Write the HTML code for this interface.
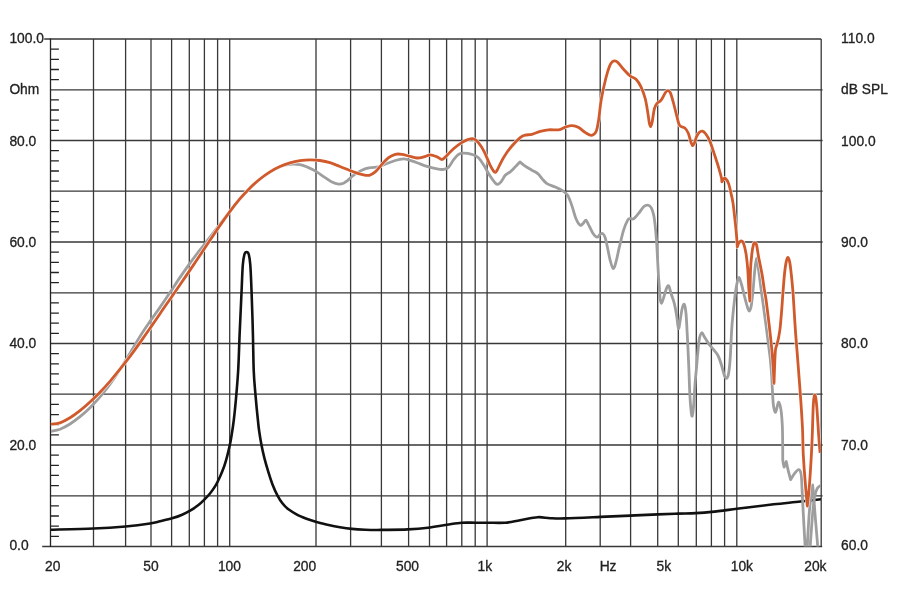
<!DOCTYPE html>
<html lang="en"><head><meta charset="utf-8"><title>Frequency response</title>
<style>html,body{margin:0;padding:0;background:#fff}svg{display:block}text{font-family:"Liberation Sans",Arial,Helvetica,sans-serif;font-size:13.8px;fill:#222;stroke:#222;stroke-width:0.3px}</style></head><body>
<svg width="897" height="603" viewBox="0 0 897 603">
<rect width="897" height="603" fill="#fff"/>
<defs><clipPath id="plot"><rect x="50.9" y="34" width="770" height="512.5"/></clipPath></defs>
<path d="M93.5 39V546.5M125.6 39V546.5M151 39V546.5M171.6 39V546.5M189.3 39V546.5M204.4 39V546.5M217.6 39V546.5M229.7 39V546.5M316 39V546.5M350.6 39V546.5M381.4 39V546.5M408.6 39V546.5M429.5 39V546.5M446.6 39V546.5M461.8 39V546.5M475.2 39V546.5M487.1 39V546.5M565.7 39V546.5M600.2 39V546.5M630.6 39V546.5M657.7 39V546.5M678.3 39V546.5M696.3 39V546.5M711.4 39V546.5M724.6 39V546.5M736.8 39V546.5M50.5 89.8H822.6M50.5 140.5H822.6M50.5 191.2H822.6M50.5 242H822.6M50.5 292.8H822.6M50.5 343.5H822.6M50.5 394.2H822.6M50.5 445H822.6M50.5 495.8H822.6M44.2 39H821.2M42.2 546.5H822.2M821.2 39V546.5" fill="none" stroke="#383838" stroke-width="1.3"/>
<path d="M50.5 38.5V547M50.5 49.1H58.9M50.5 59.3H58.9M50.5 69.5H58.9M50.5 79.6H58.9M50.5 99.9H58.9M50.5 110H58.9M50.5 120.2H58.9M50.5 130.4H58.9M50.5 150.7H58.9M50.5 160.8H58.9M50.5 171H58.9M50.5 181.1H58.9M50.5 201.4H58.9M50.5 211.6H58.9M50.5 221.7H58.9M50.5 231.8H58.9M50.5 252.2H58.9M50.5 262.3H58.9M50.5 272.5H58.9M50.5 282.6H58.9M50.5 302.9H58.9M50.5 313.1H58.9M50.5 323.2H58.9M50.5 333.4H58.9M50.5 353.7H58.9M50.5 363.8H58.9M50.5 373.9H58.9M50.5 384.1H58.9M50.5 404.4H58.9M50.5 414.6H58.9M50.5 424.7H58.9M50.5 434.9H58.9M50.5 455.2H58.9M50.5 465.3H58.9M50.5 475.4H58.9M50.5 485.6H58.9M50.5 505.9H58.9M50.5 516H58.9M50.5 526.2H58.9M50.5 536.4H58.9" fill="none" stroke="#222" stroke-width="1.3"/>
<g clip-path="url(#plot)" fill="none" stroke-linejoin="round" stroke-linecap="butt">
<path d="M50 529.7C57.2 529.5 80.9 529 93.5 528.5C106.1 528 116.2 527.3 125.6 526.5C135 525.7 144.3 524.4 150 523.5C155.7 522.6 156.3 522.2 160 521.3C163.7 520.4 168.3 519.4 172 518.3C175.7 517.2 179.1 516 182.1 514.7C185.1 513.4 187.4 512.3 190.1 510.7C192.8 509.1 195.7 507.2 198.1 505.3C200.5 503.4 202.6 501.3 204.6 499.3C206.6 497.3 208.4 495.4 210.2 493.2C212 491 213.5 489 215.2 486.2C216.9 483.4 218.7 479.5 220.2 476.2C221.7 472.9 223 469.5 224.2 466.2C225.4 462.9 226.3 459.6 227.2 456.1C228.1 452.6 229 448.8 229.8 445.1C230.6 441.4 231.1 438.2 231.8 434C232.5 429.8 233 426.7 233.8 420C234.6 413.3 235.7 402.1 236.4 393.8C237.1 385.5 237.6 380.6 238.2 370C238.8 359.4 239.2 343.2 239.8 330.3C240.4 317.4 241 303.6 241.5 292.7C242 281.8 242.3 271.4 242.8 265C243.3 258.6 243.8 256.7 244.4 254.5C245 252.3 245.9 252 246.6 252C247.3 252 248.2 252.3 248.8 254.5C249.4 256.7 249.8 258.6 250.3 265C250.8 271.4 251.2 281.8 251.6 292.7C252 303.6 252.5 317.4 252.8 330.3C253.2 343.2 253.3 359.4 253.7 370C254.1 380.6 254.7 385.5 255.4 393.8C256.1 402.1 257.2 413.6 257.9 420C258.5 426.4 258.7 428 259.3 432C259.9 436 260.5 439.8 261.3 444.1C262.1 448.5 263.2 453.4 264.4 458.1C265.6 462.8 267.1 467.9 268.4 472.2C269.7 476.5 270.9 480.3 272.4 484.2C273.9 488.1 275.7 492.1 277.4 495.3C279.1 498.5 280.6 501 282.4 503.3C284.2 505.6 286 507.5 288.4 509.3C290.8 511.1 293.5 512.7 296.5 514.3C299.5 515.9 303.2 517.4 306.5 518.7C309.8 520 312.8 520.9 316.5 521.9C320.2 522.9 324.7 524.1 328.6 525C332.5 525.9 336.1 526.6 340 527.2C343.9 527.9 347.8 528.5 352 528.9C356.2 529.3 360.3 529.5 365.2 529.7C370.1 529.9 374.4 530 381.5 529.9C388.6 529.8 400.1 529.8 407.9 529.4C415.6 529 421.5 528.5 428 527.7C434.5 526.9 441.2 525.5 446.8 524.7C452.4 523.9 457 523 461.8 522.7C466.6 522.4 471.2 522.7 475.6 522.7C480 522.7 483.2 522.7 488.1 522.7C493 522.7 499.7 523.1 505 522.7C510.3 522.3 514.6 521.1 520.1 520.2C525.6 519.3 532.7 517.5 537.7 517.2C542.7 516.9 545.6 518 550.2 518.2C554.8 518.4 556.8 518.6 565.2 518.4C573.6 518.2 589.5 517.4 600.4 516.9C611.3 516.4 620.9 516 630.5 515.6C640.1 515.2 650.1 514.7 658 514.4C665.9 514.1 671.8 513.8 678.1 513.6C684.4 513.4 690.1 513.4 695.7 513.1C701.3 512.8 704.9 512.6 711.7 511.9C718.6 511.2 726.5 510.1 736.8 508.8C747.1 507.5 763 505.5 773.6 504.3C784.2 503.1 792.4 502.4 800.4 501.5C808.4 500.6 818 499.6 821.5 499.2" stroke="#111" stroke-width="2.6"/>
<path d="M50 431.5C51.7 431.1 56.7 430.4 60 429.2C63.3 427.9 66.7 426.1 70 424C73.3 421.9 76.7 419.4 80 416.7C83.3 414 86.7 411 90 407.7C93.3 404.4 96.7 400.8 100 396.9C103.3 393 106.7 388.9 110 384.3C113.3 379.7 116.7 374.6 120 369.4C123.3 364.2 126.7 358.7 130 353.2C133.3 347.7 136.7 341.7 140 336.4C143.3 331.1 146.7 326.2 150 321.4C153.3 316.6 156.7 312.2 160 307.4C163.3 302.6 166.7 297.6 170 292.6C173.3 287.6 176.7 282.3 180 277.4C183.3 272.5 186.7 267.7 190 263.1C193.3 258.5 196.7 254.2 200 249.9C203.3 245.6 206.7 241.5 210 237.2C213.3 232.9 216.7 228.4 220 224.1C223.3 219.8 226.7 215.6 230 211.4C233.3 207.2 236.7 202.7 240 198.8C243.3 194.9 246.7 191.3 250 188C253.3 184.7 256.7 181.8 260 179.1C263.3 176.4 266.7 174.1 270 172C273.3 169.9 276.8 168 280 166.7C283.2 165.4 285.9 164.7 289.2 164.4C292.5 164.1 296.8 164.2 299.9 164.7C303 165.2 305.2 166.3 307.9 167.4C310.6 168.5 313.3 169.8 316 171.4C318.7 173 321.3 175 324 176.8C326.7 178.6 329.6 180.9 332 182.1C334.4 183.3 336.8 183.9 338.7 184.1C340.6 184.3 342 183.9 343.5 183.3C345 182.7 345.9 181.9 347.5 180.6C349.1 179.3 351 177 353.4 175.3C355.8 173.6 359 171.5 361.8 170.2C364.6 168.9 367.4 168.2 370.2 167.7C373 167.1 375.7 167.6 378.5 166.9C381.3 166.2 384.1 164.6 386.9 163.5C389.7 162.4 392.5 161.3 395.3 160.5C398.1 159.7 401.4 159 403.6 158.9C405.8 158.8 406.4 159.3 408.6 159.9C410.8 160.5 413.9 161.6 417 162.7C420.1 163.8 423.6 165.4 427 166.4C430.4 167.4 434.3 168.4 437.1 168.9C439.9 169.4 441.8 169.7 443.7 169.4C445.6 169.1 447.1 168.6 448.8 166.9C450.5 165.2 452.1 161.5 453.8 159.4C455.5 157.3 457.1 155.3 458.8 154.3C460.5 153.3 461.7 153.2 463.8 153.2C465.9 153.2 469.3 153.6 471.7 154.3C474.1 155.1 476.3 155.7 478.4 157.7C480.5 159.7 482.4 163 484.3 166.1C486.2 169.2 488.3 173.3 490.1 176.1C491.9 178.9 493.9 181.4 495.1 182.8C496.4 184.2 496.6 184.6 497.6 184.4C498.6 184.2 499.7 183.4 501 181.9C502.3 180.4 503.7 177 505.2 175.3C506.7 173.6 508.5 173.3 510.2 171.9C511.9 170.5 513.6 168.6 515.2 166.9C516.8 165.2 519.1 162.7 519.9 161.9C520.8 162.6 523.2 164.7 525.2 166.1C527.2 167.5 529.8 168.9 531.9 170.2C534 171.4 536.1 172.2 537.8 173.6C539.5 175 540.5 176.9 542 178.6C543.5 180.3 544.8 182.2 547 183.6C549.2 185 552.9 185.9 555.4 187C557.9 188.1 560 189 562 190.3C564 191.7 565.9 192.6 567.5 195.1C569.1 197.6 570.3 201.2 571.7 205.1C573.1 209 574.5 215.2 575.9 218.5C577.3 221.8 578.9 224.4 580.1 225.2C581.4 226 582.4 223.9 583.4 223.1C584.4 222.2 585.1 219.9 585.9 220.1C586.7 220.3 587.3 222.2 588.4 224.3C589.5 226.4 591.2 230.5 592.6 232.7C594 234.8 595.5 236.9 596.8 237.2C598.1 237.5 599.2 234.9 600.2 234.3C601.2 233.7 601.9 232.9 602.7 233.5C603.5 234.1 604.4 235.2 605.2 237.7C606 240.2 606.9 244.8 607.7 248.6C608.5 252.4 609.3 257 610.2 260.3C611.1 263.6 612.2 268.3 613.2 268.6C614.2 268.9 615 265.5 616 261.9C617 258.3 618.1 252.2 619.4 246.9C620.7 241.6 622.2 234.7 623.6 230.2C625 225.7 626.6 222 627.7 220.1C628.8 218.2 629.3 218.7 630.3 218.5C631.3 218.3 632.2 219.7 633.6 218.8C635 218 636.9 215.4 638.6 213.4C640.3 211.4 642.1 208.2 643.6 206.8C645.1 205.4 646.5 205 647.8 205.1C649.1 205.2 650.2 205.9 651.2 207.6C652.2 209.3 653 211.9 653.7 215.1C654.4 218.3 654.8 222.1 655.3 226.8C655.8 231.5 656.3 237.4 656.7 243.5C657.1 249.6 657.5 257.9 657.8 263.6C658.1 269.4 658.4 274.1 658.6 278C658.9 281.9 659 283.3 659.3 286.7C659.5 290.1 659.8 295.6 660.1 298.4C660.5 301.2 660.9 303.4 661.4 303.4C661.9 303.4 662.5 300.9 663.4 298.4C664.2 295.9 665.6 290.5 666.5 288.4C667.4 286.3 668 285.1 668.8 285.9C669.5 286.7 670.1 290.5 671 293.4C671.9 296.3 673.3 299.5 674.3 303.4C675.3 307.3 676.1 312.6 676.8 316.8C677.5 321 677.9 327.9 678.5 328.5C679.1 329.1 679.6 323.5 680.2 320.2C680.8 316.9 681.5 311.1 682.2 308.5C682.9 305.9 683.7 303.5 684.3 304.3C684.9 305.1 685.5 308.6 686 313.5C686.5 318.4 686.8 326.8 687.2 333.5C687.6 340.2 687.9 347.5 688.2 353.6C688.5 359.7 688.6 363.1 688.9 370C689.2 376.9 689.5 388.5 689.9 395.2C690.2 401.9 690.6 406.7 691 410.2C691.4 413.7 691.8 416.7 692.2 416.1C692.6 415.6 693 412.6 693.5 406.9C694 401.2 694.7 388.4 695.2 381.8C695.7 375.2 696.2 371.7 696.6 367C697 362.3 697.2 358.3 697.7 353.6C698.2 348.9 698.7 342.1 699.4 338.6C700.1 335.1 701.1 333 701.9 332.7C702.7 332.4 703.3 335.1 704.4 336.9C705.5 338.7 707.1 341.5 708.6 343.6C710.1 345.7 712 347.6 713.6 349.7C715.2 351.8 716.9 353.4 718.2 356C719.5 358.6 720.5 361.7 721.5 365C722.5 368.3 723.5 373.4 724.4 375.6C725.3 377.8 726 378.6 726.7 378.2C727.4 377.8 728.1 376.6 728.7 373C729.3 369.4 729.8 364.7 730.3 356.7C730.8 348.7 731.3 334.6 732 325.2C732.7 315.8 733.7 307.1 734.5 300.1C735.3 293.1 736.2 287.2 737 283.4C737.8 279.6 738.3 277.2 739 277.3C739.7 277.4 740.4 280.6 741.4 284C742.4 287.4 743.7 293.4 744.8 297.5C745.9 301.6 747.2 306.6 748 308.8C748.8 311 749.2 311.2 749.7 310.7C750.2 310.1 750.8 308.7 751.3 305.5C751.8 302.3 752.3 297.3 752.9 291.7C753.5 286.1 754 277.6 754.6 272C755.2 266.4 755.9 258.5 756.6 258.2C757.3 257.9 757.8 264.7 758.6 270C759.4 275.3 760.2 282.7 761.2 290C762.2 297.3 763.4 305.7 764.5 314C765.6 322.3 766.9 332.3 767.9 340C768.9 347.7 769.8 354 770.4 360C771 366 771.4 371 771.7 376C772 381 772.1 385.2 772.4 390C772.7 394.8 772.9 401.3 773.4 405C773.9 408.7 774.8 412.8 775.6 412.3C776.5 411.9 777.6 402.7 778.5 402.3C779.4 401.9 780.4 406.3 781 410.1C781.6 413.9 782 419.4 782.3 425.2C782.6 431 782.6 439.2 782.7 445C782.8 450.8 782.6 456.3 782.8 460C783 463.7 783.9 465.9 784.1 467.1C784.5 466.2 785.9 462.4 786.3 461.5C786.6 462.9 787.4 467.1 788.1 470.1C788.8 473.1 790.2 478 790.6 479.6C791.2 478.7 792.8 475.8 794.1 474.1C795.4 472.4 797.4 469.6 798.6 469.6C799.8 469.6 800.5 470.7 801.1 474.1C801.7 477.5 801.8 484.1 802.1 490.1C802.4 496.1 802.6 500.7 803.1 510C803.6 519.3 804.6 537.3 805.1 546C805.6 554.7 806 559.3 806.2 562C806.4 559.3 806.8 554.7 807.3 546C807.8 537.3 808.6 520.2 809.5 510C810.4 499.8 812.1 489.2 812.6 485C812.8 486.7 813.2 490 813.6 495C814 500 814.5 507.5 815.1 515C815.7 522.5 816.7 533.8 817.2 540C817.7 546.2 817.9 550 818 552" stroke="#9e9e9e" stroke-width="2.8"/>
<path d="M809.4 556C809.5 554.3 809.7 552.8 810.2 546C810.7 539.2 811.8 523.2 812.5 515C813.2 506.8 813.7 501.5 814.5 497C815.3 492.5 816.3 490 817.5 488C818.7 486 820.8 485.5 821.5 485" stroke="#9e9e9e" stroke-width="2.8"/>
<path d="M50 424.2C51.7 424 56.7 423.9 60 422.8C63.3 421.7 66.7 419.8 70 417.8C73.3 415.8 76.7 413.3 80 410.7C83.3 408.1 86.7 405.2 90 402.1C93.3 399 96.7 395.8 100 392.3C103.3 388.9 106.7 385.2 110 381.4C113.3 377.5 116.7 373.4 120 369.2C123.3 365 126.7 360.8 130 356.4C133.3 352 136.7 347.3 140 342.6C143.3 337.9 146.7 333.1 150 328.3C153.3 323.5 156.7 318.6 160 313.7C163.3 308.8 166.7 304 170 299.2C173.3 294.4 176.7 289.5 180 284.7C183.3 279.9 186.7 275 190 270.1C193.3 265.2 196.7 260.3 200 255.3C203.3 250.3 206.7 245.3 210 240.3C213.3 235.3 216.7 230.2 220 225.4C223.3 220.6 226.7 215.8 230 211.3C233.3 206.9 236.7 202.6 240 198.7C243.3 194.8 246.7 191.2 250 187.9C253.3 184.6 256.7 181.7 260 179C263.3 176.3 266.7 174 270 171.9C273.3 169.8 276.7 168.1 280 166.6C283.3 165.1 286.7 163.9 290 162.9C293.3 161.9 296.7 161.2 300 160.7C303.3 160.2 306.7 159.9 310 159.9C313.3 159.9 316.7 160 320 160.5C323.3 161 326.7 161.7 330 162.7C333.3 163.7 336.1 165 340 166.5C343.9 168 349.5 170.5 353.4 171.9C357.3 173.3 360.9 174.3 363.5 174.9C366.1 175.5 367.4 175.8 369.3 175.3C371.2 174.8 373.1 173.7 375.2 171.9C377.3 170.1 379.7 166.8 381.9 164.4C384.1 162 386.4 159.4 388.6 157.7C390.8 156 393.1 154.9 395.3 154.3C397.5 153.7 399.7 154 401.9 154.3C404.1 154.6 406.1 155.4 408.6 156C411.1 156.6 414.5 157.8 417 158C419.5 158.2 421.5 157.4 423.7 156.9C425.9 156.4 428.2 154.8 430.4 154.8C432.6 154.8 435.4 156.2 437.1 156.9C438.8 157.6 439.8 158.5 440.6 158.9C441.4 159.3 441.6 159.6 442.1 159.5C442.6 159.4 442.8 159.3 443.6 158.6C444.4 157.9 445.4 156.9 447.1 155.2C448.8 153.5 451.4 150.6 453.8 148.5C456.2 146.4 459.3 144.1 461.7 142.6C464.1 141.1 466.4 139.9 468.4 139.3C470.3 138.7 471.7 138.2 473.4 138.8C475.1 139.4 476.6 140.4 478.4 142.6C480.2 144.8 482.4 148 484.3 151.8C486.2 155.6 488.6 162 490.1 165.2C491.7 168.4 492.8 170 493.6 171.2C494.5 172.4 494.7 172.5 495.2 172.4C495.7 172.3 495.4 173.2 496.8 170.8C498.2 168.4 501 161.8 503.5 157.7C506 153.6 509.1 149.3 511.9 146C514.7 142.7 518 139.4 520.2 137.6C522.4 135.8 523.2 135.6 525.2 135.1C527.2 134.6 529.4 134.9 531.9 134.3C534.4 133.7 537.5 132.2 540.3 131.4C543.1 130.7 545.5 130.1 548.6 129.8C551.7 129.5 555.9 130.2 558.7 129.8C561.5 129.4 563.2 127.8 565.4 127.1C567.6 126.4 569.9 125.5 572.1 125.6C574.3 125.7 576.5 126.4 578.7 127.6C580.9 128.8 583.3 131.3 585.4 132.6C587.5 133.9 589.7 135.6 591.5 135.4C593.3 135.2 594.9 134 596.1 131.5C597.3 129 597.8 125.1 598.6 120.2C599.4 115.3 600 107.7 600.9 101.9C601.8 96.1 603.1 90.2 604.2 85.2C605.3 80.2 606.5 75.4 607.6 71.8C608.7 68.2 609.8 65.2 610.9 63.4C612 61.6 613.2 61.1 614.3 60.9C615.4 60.7 616.1 60.8 617.6 62.2C619.1 63.6 621.4 67 623.5 69.3C625.6 71.6 628.1 74.3 630.2 76C632.3 77.7 634.2 77.5 636 79.3C637.8 81.1 639.5 83.6 641 86.8C642.5 90 644.1 94.3 645.2 98.5C646.3 102.7 647 107.7 647.7 111.9C648.4 116.1 648.9 121.1 649.4 123.6C649.9 126 650.4 126.1 650.6 126.6C650.9 125.8 651.6 124.9 652.2 121.9C652.8 118.9 653.6 111.7 654.4 108.6C655.2 105.5 655.8 104.9 656.9 103.5C658 102.1 659.7 102 661.1 100.2C662.5 98.4 664.2 94.3 665.3 92.7C666.4 91.1 667 90.7 667.8 90.7C668.6 90.7 669.3 90.6 670.3 92.7C671.3 94.8 672.5 99.5 673.6 103.5C674.7 107.5 676 113.2 677 116.9C678 120.6 678.4 123.7 679.7 125.5C681 127.3 683.4 126.8 684.8 128C686.2 129.2 687.2 130.8 688.2 133C689.2 135.2 690 139.4 690.7 141.5C691.4 143.6 692.3 144.9 692.6 145.6C692.9 145.2 693.6 144.9 694.3 143.4C695 141.9 695.8 138.3 696.6 136.5C697.5 134.7 698.4 133.2 699.4 132.3C700.4 131.4 701.3 130.9 702.4 131.2C703.5 131.5 704.5 132.3 705.8 134C707.1 135.7 708.4 137.7 710 141.5C711.6 145.3 713.6 152 715.2 156.8C716.8 161.6 718.4 166.7 719.4 170.2C720.4 173.7 721.1 176.1 721.5 178C721.9 179.9 721.8 181.2 721.9 181.9C722.2 181.4 722.9 179.5 723.5 178.9C724.1 178.3 724.8 177.8 725.6 178.6C726.5 179.4 727.7 181.1 728.6 183.6C729.5 186.1 730.4 190.3 731.1 193.6C731.9 196.9 732.5 199.5 733.1 203.6C733.7 207.7 734.2 213.1 734.8 218.4C735.4 223.7 736.1 230.4 736.5 235.2C736.9 239.9 737.2 244.9 737.3 246.9C737.5 246.3 737.9 244.5 738.5 243.5C739.1 242.5 740.2 241.1 741 241C741.8 240.9 742.7 241.1 743.5 243.2C744.3 245.3 745.3 249.3 746 253.5C746.7 257.7 747.2 262.5 747.7 268.6C748.2 274.7 748.5 284.6 748.9 290C749.3 295.4 749.7 299.2 749.9 301C750 295.9 750.2 278.2 750.5 270.3C750.8 262.4 751.4 257.8 751.9 253.5C752.4 249.2 753 246.1 753.5 244.3C754 242.5 754.4 242.7 754.9 242.8C755.4 243 756 242.8 756.6 245.2C757.2 247.5 757.7 252.2 758.6 256.9C759.5 261.6 760.9 268.1 761.9 273.6C762.9 279.1 763.7 285.6 764.4 290C765.1 294.4 765.3 293.9 766.1 300C766.9 306.1 768.4 318.4 769.4 326.8C770.4 335.2 771.2 343.2 771.9 350.2C772.5 357.2 772.9 363.1 773.3 368.6C773.6 374.1 773.9 380.9 774 383.4C774.2 378.1 774.8 358.4 775.3 351.9C775.8 345.4 776.5 346.7 777 344.4C777.5 342.1 778 340.7 778.5 338C779 335.3 779.6 332.8 780.1 328.2C780.6 323.6 781.2 316.1 781.7 310.1C782.2 304.1 782.5 297.9 783 292C783.5 286.1 783.9 280 784.4 275C784.9 270 785.6 264.8 786.2 261.9C786.8 259 787.2 257.5 787.8 257.4C788.3 257.3 788.9 258.4 789.5 261.1C790.1 263.8 790.7 268.8 791.2 273.6C791.8 278.4 792.4 285.6 792.8 290C793.2 294.4 793.1 293.3 793.5 300C793.9 306.7 794.7 319.9 795.4 330.2C796.1 340.5 797.1 351.2 797.9 362C798.7 372.8 799.6 384 800.4 395.1C801.2 406.2 802 418.5 802.5 428.5C803 438.5 802.8 446.1 803.3 455C803.8 463.9 804.5 473.5 805.2 482C805.9 490.5 806.9 502 807.3 506C807.6 503 808.6 496 809.2 488C809.9 480 810.7 466.5 811.2 458C811.7 449.5 811.8 446 812.2 436.9C812.6 427.8 812.9 410.4 813.4 403.4C813.9 396.4 814.5 394.5 815.1 395.1C815.7 395.7 816.2 399.8 816.8 406.8C817.4 413.8 818.2 429.2 818.8 436.9C819.3 444.6 819.9 450.1 820.1 452.8" stroke="#fff" stroke-width="3.9" stroke-opacity="0.8"/>
<path d="M50 424.2C51.7 424 56.7 423.9 60 422.8C63.3 421.7 66.7 419.8 70 417.8C73.3 415.8 76.7 413.3 80 410.7C83.3 408.1 86.7 405.2 90 402.1C93.3 399 96.7 395.8 100 392.3C103.3 388.9 106.7 385.2 110 381.4C113.3 377.5 116.7 373.4 120 369.2C123.3 365 126.7 360.8 130 356.4C133.3 352 136.7 347.3 140 342.6C143.3 337.9 146.7 333.1 150 328.3C153.3 323.5 156.7 318.6 160 313.7C163.3 308.8 166.7 304 170 299.2C173.3 294.4 176.7 289.5 180 284.7C183.3 279.9 186.7 275 190 270.1C193.3 265.2 196.7 260.3 200 255.3C203.3 250.3 206.7 245.3 210 240.3C213.3 235.3 216.7 230.2 220 225.4C223.3 220.6 226.7 215.8 230 211.3C233.3 206.9 236.7 202.6 240 198.7C243.3 194.8 246.7 191.2 250 187.9C253.3 184.6 256.7 181.7 260 179C263.3 176.3 266.7 174 270 171.9C273.3 169.8 276.7 168.1 280 166.6C283.3 165.1 286.7 163.9 290 162.9C293.3 161.9 296.7 161.2 300 160.7C303.3 160.2 306.7 159.9 310 159.9C313.3 159.9 316.7 160 320 160.5C323.3 161 326.7 161.7 330 162.7C333.3 163.7 336.1 165 340 166.5C343.9 168 349.5 170.5 353.4 171.9C357.3 173.3 360.9 174.3 363.5 174.9C366.1 175.5 367.4 175.8 369.3 175.3C371.2 174.8 373.1 173.7 375.2 171.9C377.3 170.1 379.7 166.8 381.9 164.4C384.1 162 386.4 159.4 388.6 157.7C390.8 156 393.1 154.9 395.3 154.3C397.5 153.7 399.7 154 401.9 154.3C404.1 154.6 406.1 155.4 408.6 156C411.1 156.6 414.5 157.8 417 158C419.5 158.2 421.5 157.4 423.7 156.9C425.9 156.4 428.2 154.8 430.4 154.8C432.6 154.8 435.4 156.2 437.1 156.9C438.8 157.6 439.8 158.5 440.6 158.9C441.4 159.3 441.6 159.6 442.1 159.5C442.6 159.4 442.8 159.3 443.6 158.6C444.4 157.9 445.4 156.9 447.1 155.2C448.8 153.5 451.4 150.6 453.8 148.5C456.2 146.4 459.3 144.1 461.7 142.6C464.1 141.1 466.4 139.9 468.4 139.3C470.3 138.7 471.7 138.2 473.4 138.8C475.1 139.4 476.6 140.4 478.4 142.6C480.2 144.8 482.4 148 484.3 151.8C486.2 155.6 488.6 162 490.1 165.2C491.7 168.4 492.8 170 493.6 171.2C494.5 172.4 494.7 172.5 495.2 172.4C495.7 172.3 495.4 173.2 496.8 170.8C498.2 168.4 501 161.8 503.5 157.7C506 153.6 509.1 149.3 511.9 146C514.7 142.7 518 139.4 520.2 137.6C522.4 135.8 523.2 135.6 525.2 135.1C527.2 134.6 529.4 134.9 531.9 134.3C534.4 133.7 537.5 132.2 540.3 131.4C543.1 130.7 545.5 130.1 548.6 129.8C551.7 129.5 555.9 130.2 558.7 129.8C561.5 129.4 563.2 127.8 565.4 127.1C567.6 126.4 569.9 125.5 572.1 125.6C574.3 125.7 576.5 126.4 578.7 127.6C580.9 128.8 583.3 131.3 585.4 132.6C587.5 133.9 589.7 135.6 591.5 135.4C593.3 135.2 594.9 134 596.1 131.5C597.3 129 597.8 125.1 598.6 120.2C599.4 115.3 600 107.7 600.9 101.9C601.8 96.1 603.1 90.2 604.2 85.2C605.3 80.2 606.5 75.4 607.6 71.8C608.7 68.2 609.8 65.2 610.9 63.4C612 61.6 613.2 61.1 614.3 60.9C615.4 60.7 616.1 60.8 617.6 62.2C619.1 63.6 621.4 67 623.5 69.3C625.6 71.6 628.1 74.3 630.2 76C632.3 77.7 634.2 77.5 636 79.3C637.8 81.1 639.5 83.6 641 86.8C642.5 90 644.1 94.3 645.2 98.5C646.3 102.7 647 107.7 647.7 111.9C648.4 116.1 648.9 121.1 649.4 123.6C649.9 126 650.4 126.1 650.6 126.6C650.9 125.8 651.6 124.9 652.2 121.9C652.8 118.9 653.6 111.7 654.4 108.6C655.2 105.5 655.8 104.9 656.9 103.5C658 102.1 659.7 102 661.1 100.2C662.5 98.4 664.2 94.3 665.3 92.7C666.4 91.1 667 90.7 667.8 90.7C668.6 90.7 669.3 90.6 670.3 92.7C671.3 94.8 672.5 99.5 673.6 103.5C674.7 107.5 676 113.2 677 116.9C678 120.6 678.4 123.7 679.7 125.5C681 127.3 683.4 126.8 684.8 128C686.2 129.2 687.2 130.8 688.2 133C689.2 135.2 690 139.4 690.7 141.5C691.4 143.6 692.3 144.9 692.6 145.6C692.9 145.2 693.6 144.9 694.3 143.4C695 141.9 695.8 138.3 696.6 136.5C697.5 134.7 698.4 133.2 699.4 132.3C700.4 131.4 701.3 130.9 702.4 131.2C703.5 131.5 704.5 132.3 705.8 134C707.1 135.7 708.4 137.7 710 141.5C711.6 145.3 713.6 152 715.2 156.8C716.8 161.6 718.4 166.7 719.4 170.2C720.4 173.7 721.1 176.1 721.5 178C721.9 179.9 721.8 181.2 721.9 181.9C722.2 181.4 722.9 179.5 723.5 178.9C724.1 178.3 724.8 177.8 725.6 178.6C726.5 179.4 727.7 181.1 728.6 183.6C729.5 186.1 730.4 190.3 731.1 193.6C731.9 196.9 732.5 199.5 733.1 203.6C733.7 207.7 734.2 213.1 734.8 218.4C735.4 223.7 736.1 230.4 736.5 235.2C736.9 239.9 737.2 244.9 737.3 246.9C737.5 246.3 737.9 244.5 738.5 243.5C739.1 242.5 740.2 241.1 741 241C741.8 240.9 742.7 241.1 743.5 243.2C744.3 245.3 745.3 249.3 746 253.5C746.7 257.7 747.2 262.5 747.7 268.6C748.2 274.7 748.5 284.6 748.9 290C749.3 295.4 749.7 299.2 749.9 301C750 295.9 750.2 278.2 750.5 270.3C750.8 262.4 751.4 257.8 751.9 253.5C752.4 249.2 753 246.1 753.5 244.3C754 242.5 754.4 242.7 754.9 242.8C755.4 243 756 242.8 756.6 245.2C757.2 247.5 757.7 252.2 758.6 256.9C759.5 261.6 760.9 268.1 761.9 273.6C762.9 279.1 763.7 285.6 764.4 290C765.1 294.4 765.3 293.9 766.1 300C766.9 306.1 768.4 318.4 769.4 326.8C770.4 335.2 771.2 343.2 771.9 350.2C772.5 357.2 772.9 363.1 773.3 368.6C773.6 374.1 773.9 380.9 774 383.4C774.2 378.1 774.8 358.4 775.3 351.9C775.8 345.4 776.5 346.7 777 344.4C777.5 342.1 778 340.7 778.5 338C779 335.3 779.6 332.8 780.1 328.2C780.6 323.6 781.2 316.1 781.7 310.1C782.2 304.1 782.5 297.9 783 292C783.5 286.1 783.9 280 784.4 275C784.9 270 785.6 264.8 786.2 261.9C786.8 259 787.2 257.5 787.8 257.4C788.3 257.3 788.9 258.4 789.5 261.1C790.1 263.8 790.7 268.8 791.2 273.6C791.8 278.4 792.4 285.6 792.8 290C793.2 294.4 793.1 293.3 793.5 300C793.9 306.7 794.7 319.9 795.4 330.2C796.1 340.5 797.1 351.2 797.9 362C798.7 372.8 799.6 384 800.4 395.1C801.2 406.2 802 418.5 802.5 428.5C803 438.5 802.8 446.1 803.3 455C803.8 463.9 804.5 473.5 805.2 482C805.9 490.5 806.9 502 807.3 506C807.6 503 808.6 496 809.2 488C809.9 480 810.7 466.5 811.2 458C811.7 449.5 811.8 446 812.2 436.9C812.6 427.8 812.9 410.4 813.4 403.4C813.9 396.4 814.5 394.5 815.1 395.1C815.7 395.7 816.2 399.8 816.8 406.8C817.4 413.8 818.2 429.2 818.8 436.9C819.3 444.6 819.9 450.1 820.1 452.8" stroke="#d05a2b" stroke-width="2.8"/>
</g>
<text x="9.4" y="43.4">100.0</text>
<text x="9.4" y="94.2">Ohm</text>
<text x="9.4" y="145.6">80.0</text>
<text x="9.4" y="246.7">60.0</text>
<text x="9.4" y="347.9">40.0</text>
<text x="9.4" y="450.4">20.0</text>
<text x="9.4" y="549.9">0.0</text>
<text x="841.1" y="43.4">110.0</text>
<text x="841.1" y="94.2">dB SPL</text>
<text x="841.1" y="145.5">100.0</text>
<text x="841.1" y="246.9">90.0</text>
<text x="841.1" y="347.9">80.0</text>
<text x="841.1" y="450.3">70.0</text>
<text x="841.1" y="549.9">60.0</text>
<text x="52.8" y="570.8" text-anchor="middle">20</text>
<text x="150.9" y="570.8" text-anchor="middle">50</text>
<text x="229.4" y="570.8" text-anchor="middle">100</text>
<text x="304.7" y="570.8" text-anchor="middle">200</text>
<text x="407.5" y="570.8" text-anchor="middle">500</text>
<text x="484.8" y="570.8" text-anchor="middle">1k</text>
<text x="564" y="570.8" text-anchor="middle">2k</text>
<text x="608.1" y="570.8" text-anchor="middle">Hz</text>
<text x="663.8" y="570.8" text-anchor="middle">5k</text>
<text x="741.9" y="570.8" text-anchor="middle">10k</text>
<text x="815.4" y="570.8" text-anchor="middle">20k</text>
</svg></body></html>
